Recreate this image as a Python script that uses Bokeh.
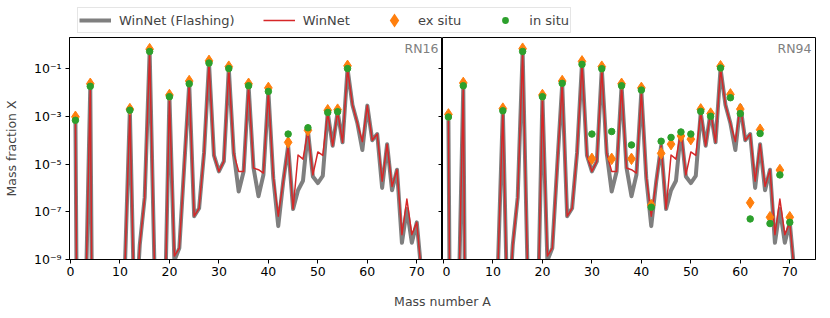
from bokeh.plotting import figure
from bokeh.layouts import column, row
from bokeh.models import (Range1d, FixedTicker, LogAxis, LinearAxis, Legend, LegendItem,
                          Label, ColumnDataSource, CustomJSTickFormatter)
from bokeh.embed import file_html
from bokeh.resources import INLINE

# ---------------- data ----------------
mass_number = list(range(1, 72))

winnet = [6.8e-4, 1e-32, 4e-12, 1.8e-2, 1e-28, 1e-30, 1e-30, 1e-30, 1e-30, 1e-30,
          5e-10, 1.8e-3, 1e-12, 4e-9, 4e-7, 0.52, 3e-10, 1e-20, 1.3e-12, 6.6e-3,
          1.4e-9, 3e-9, 9e-6, 2.3e-2, 6.5e-8, 1.4e-7, 3e-5, 0.17, 2.3e-5, 4.9e-6,
          1.3e-5, 0.1, 2.8e-5, 4.9e-6, 4.9e-6, 1.9e-2, 6.8e-6, 5.8e-6, 4.2e-6, 1.1e-2,
          3e-6, 6.5e-8, 1.8e-6, 5.8e-5, 1.3e-7, 2.4e-5, 1.6e-5, 2.5e-4, 3.5e-6, 3.2e-5,
          2.3e-5, 1.45e-3, 5.8e-5, 1.55e-3, 8.1e-5, 0.1, 3e-3, 5.1e-4, 8.7e-5, 2.8e-3,
          1e-4, 1.8e-4, 1.9e-6, 6.8e-5, 1.15e-6, 5.8e-6, 1.1e-8, 3.4e-7, 1.1e-8, 3.6e-8,
          2e-10]

winnet_flashing = [6.8e-4, 1e-32, 4e-12, 1.8e-2, 1e-28, 1e-30, 1e-30, 1e-30, 1e-30, 1e-30,
                   5e-10, 1.8e-3, 1e-12, 4e-9, 4e-7, 0.52, 3e-10, 1e-20, 1.3e-12, 6.6e-3,
                   9e-10, 3e-9, 9e-6, 2.3e-2, 6.5e-8, 1.4e-7, 3e-5, 0.17, 2.3e-5, 4.9e-6,
                   1.3e-5, 0.1, 2.8e-5, 7e-7, 4.9e-6, 1.9e-2, 6.8e-6, 4.5e-7, 3.5e-6, 1.1e-2,
                   2.5e-6, 2.5e-8, 1.8e-6, 5.8e-5, 1.3e-7, 8e-7, 2e-6, 2.5e-4, 3e-6, 1.6e-6,
                   3.2e-6, 1.45e-3, 5.8e-5, 1.55e-3, 8.1e-5, 0.1, 3e-3, 5.1e-4, 3.9e-5, 2.8e-3,
                   1e-4, 1.8e-4, 1e-6, 6.8e-5, 8e-7, 5.8e-6, 5e-9, 1.3e-7, 5e-9, 3.6e-8,
                   2e-10]

rn16_a = [1, 4, 12, 16, 20, 24, 28, 32, 36, 40, 44, 48, 52, 54, 56]
rn16_ex_situ = [9.5e-4, 2.3e-2, 2e-3, 0.65, 7.8e-3, 3e-2, 0.21, 0.12, 2.3e-2, 1.55e-2,
                8.1e-5, 2.6e-4, 1.8e-3, 1.9e-3, 0.13]
rn16_in_situ = [6.8e-4, 1.8e-2, 1.8e-3, 0.52, 6.6e-3, 2.3e-2, 0.17, 0.1, 1.9e-2, 1.1e-2,
                1.8e-4, 3.3e-4, 1.45e-3, 1.55e-3, 0.1]

rn94_a = [1, 4, 12, 16, 20, 24, 28, 30, 32, 34, 36, 38, 40, 42, 44, 46, 48, 50, 52, 54,
          56, 58, 60, 62, 64, 66, 68, 70]
rn94_ex_situ = [1.2e-3, 2.5e-2, 2.1e-3, 0.68, 7.8e-3, 3e-2, 0.2, 1.65e-5, 0.12, 1.65e-5,
                2.3e-2, 1.65e-5, 1.55e-2, 1.9e-7, 2.8e-5, 6.8e-5, 1.5e-4, 1.1e-4, 1.95e-3, 1.3e-3,
                0.125, 8.3e-3, 2e-3, 2.4e-7, 2.75e-4, 5.9e-8, 5.6e-6, 5.9e-8]
rn94_in_situ = [9.3e-4, 1.9e-2, 1.7e-3, 0.52, 6.6e-3, 2.4e-2, 0.15, 1.8e-4, 0.098, 2.3e-4,
                1.9e-2, 6.3e-5, 1.25e-2, 1.55e-7, 9e-5, 1.3e-4, 2.2e-4, 1.8e-4, 1.6e-3, 1e-3,
                0.105, 6e-3, 1.3e-3, 5e-8, 1.9e-4, 3.2e-8, 3.5e-6, 3.6e-8]

x_ticks = [0, 10, 20, 30, 40, 50, 60, 70]
y_ticks = [1e-9, 1e-7, 1e-5, 1e-3, 1e-1]
y_tick_labels = ["10⁻⁹", "10⁻⁷", "10⁻⁵", "10⁻³", "10⁻¹"]

panel_names = ["RN16", "RN94"]
series_labels = ["WinNet (Flashing)", "WinNet", "ex situ", "in situ"]

# ---------------- style ----------------
FONT = "DejaVu Sans"
FS = "12.5px"
LEG_FS = "13px"
GRAY = "#7f7f7f"
RED = "#d62728"
ORANGE = "#ff7f0e"
GREEN = "#2ca02c"
X_MIN, X_MAX = -0.2, 75.2
Y_MIN, Y_MAX = 1e-9, 2.0

y_formatter = CustomJSTickFormatter(args=dict(tvals=y_ticks, tlabels=y_tick_labels), code="""
    let best = 0, bd = 1e9;
    for (let i = 0; i < tvals.length; i++) {
        const d = Math.abs(Math.log10(tvals[i]) - Math.log10(tick));
        if (d < bd) { bd = d; best = i; }
    }
    return tlabels[best];
""")
empty_formatter = CustomJSTickFormatter(code="return '';")

y_range = Range1d(Y_MIN, Y_MAX)


def style_axis(ax):
    ax.major_tick_out = 4
    ax.major_tick_in = 0
    ax.minor_tick_out = 0
    ax.minor_tick_in = 0
    ax.major_tick_line_color = "black"
    ax.axis_line_color = "black"
    ax.major_label_text_font = FONT
    ax.major_label_text_font_size = FS
    ax.major_label_text_color = "black"
    ax.axis_label_text_font = FONT
    ax.axis_label_text_font_size = FS
    ax.axis_label_text_font_style = "normal"


def make_panel(width, min_left, min_right, a_vals, ex_vals, in_vals, name, show_ylabels):
    p = figure(width=width, height=250, x_range=Range1d(X_MIN, X_MAX), y_range=y_range,
               y_axis_type="log", x_axis_location=None, y_axis_location=None,
               output_backend="svg", toolbar_location=None,
               min_border_left=min_left, min_border_right=min_right,
               min_border_top=1, min_border_bottom=27)
    p.grid.visible = False
    p.outline_line_color = "black"
    p.outline_line_width = 1
    p.background_fill_color = "white"
    p.border_fill_color = "white"

    xa = LinearAxis(ticker=FixedTicker(ticks=x_ticks))
    style_axis(xa)
    xa.major_label_standoff = 3
    p.add_layout(xa, "below")

    if show_ylabels:
        ya = LogAxis(ticker=FixedTicker(ticks=y_ticks), formatter=y_formatter,
                     axis_label="Mass fraction X")
        style_axis(ya)
        ya.major_label_standoff = 4
        ya.axis_label_standoff = 12
        p.add_layout(ya, "left")
        # ticks of the neighbouring panel, pointing into this one
        ra = LogAxis(ticker=FixedTicker(ticks=y_ticks), formatter=empty_formatter,
                     fixed_location=X_MAX)
        style_axis(ra)
        ra.major_tick_out = 0
        ra.major_tick_in = 4
        ra.axis_line_color = None
        p.add_layout(ra, "right")

    line_src = ColumnDataSource(dict(a=mass_number, flash=winnet_flashing, wn=winnet))
    p.line("a", "flash", source=line_src, line_color=GRAY, line_width=4, line_join="round")
    p.line("a", "wn", source=line_src, line_color=RED, line_width=1.5, line_join="round")
    mk_src = ColumnDataSource(dict(a=a_vals, ex=ex_vals, ins=in_vals))
    p.scatter("a", "ex", source=mk_src, marker="diamond", size=11.5,
              fill_color=ORANGE, line_color=ORANGE, line_width=1)
    p.scatter("a", "ins", source=mk_src, marker="circle", size=6.5,
              fill_color=GREEN, line_color=GREEN, line_width=1)

    p.add_layout(Label(x=X_MAX, y=Y_MAX, x_offset=-4, y_offset=-3, text=name,
                       text_align="right", text_baseline="top", text_color="gray",
                       text_font=FONT, text_font_size=FS))
    return p


left = make_panel(442, 69, 0, rn16_a, rn16_ex_situ, rn16_in_situ, panel_names[0], True)
right = make_panel(378, 0, 5, rn94_a, rn94_ex_situ, rn94_in_situ, panel_names[1], False)

# ---------------- legend strip ----------------
# the legend's renderers hold the real series, but the strip's ranges keep them out of view
leg = figure(width=820, height=36, x_range=(-10, -5), y_range=(-10, -5), output_backend="svg",
             toolbar_location=None, x_axis_location=None, y_axis_location=None,
             min_border=0, outline_line_color=None)
leg.grid.visible = False
r_g = leg.line(mass_number, winnet_flashing, line_color=GRAY, line_width=4)
r_r = leg.line(mass_number, winnet, line_color=RED, line_width=1.5)
# legend markers are sized from the legend box; stroke widths bring them to the plot's size
r_d = leg.scatter(rn16_a, rn16_ex_situ, marker="diamond", size=11.5,
                  fill_color=ORANGE, line_color=ORANGE, line_width=3, line_join="miter")
r_c = leg.scatter(rn16_a, rn16_in_situ, marker="circle", size=6.5,
                  fill_color=GREEN, line_color="white", line_width=2)
legend = Legend(items=[LegendItem(label=series_labels[0], renderers=[r_g]),
                       LegendItem(label=series_labels[1], renderers=[r_r]),
                       LegendItem(label=series_labels[2], renderers=[r_d]),
                       LegendItem(label=series_labels[3], renderers=[r_c])],
                orientation="horizontal", location=(77, 3), margin=0, padding=1,
                spacing=28, label_standoff=8, glyph_width=32, glyph_height=22,
                label_height=18, label_text_font=FONT, label_text_font_size=LEG_FS,
                border_line_color="#cccccc", border_line_width=1,
                background_fill_color="white", background_fill_alpha=0.8)
leg.add_layout(legend)

# ---------------- x label strip ----------------
xl = figure(width=820, height=30, x_range=(0, 820), y_range=(0, 30), output_backend="svg",
            toolbar_location=None, x_axis_location=None, y_axis_location=None,
            min_border=0, outline_line_color=None)
xl.grid.visible = False
xl.add_layout(Label(x=442, y=15.5, text="Mass number A", text_align="center",
                    text_baseline="middle", text_font=FONT, text_font_size=FS))

layout = column(leg, row(left, right), xl)
open("out.html", "w").write(file_html(layout, INLINE))
